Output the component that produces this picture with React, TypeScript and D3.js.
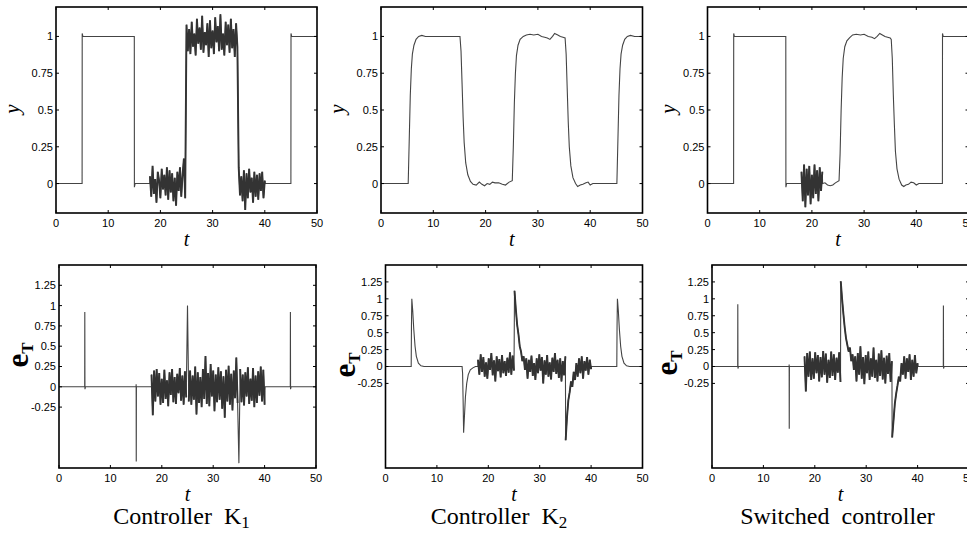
import React from 'react'
import * as d3 from 'd3'

type Pt = [number, number]
type Block = { t0: number; t1: number; v: number[] }
type Seg = Pt[] | Block

// tick values
const xTicks = [0, 10, 20, 30, 40, 50]
const yTicksTop = [0, 0.25, 0.5, 0.75, 1]
const yTicksBottom = [-0.25, 0, 0.25, 0.5, 0.75, 1, 1.25]

// ---- Controller K1, output y ----
const k1YHead: Pt[] = [[0, 0], [5, 0], [5.02, 1.02], [5.15, 1.0], [15, 1], [15.02, -0.025], [15.15, 0], [18, 0]]
const k1YNoise = [
  0.05, -0.09, 0.12, -0.07, 0.03, -0.13, 0.08, 0.02, -0.10, 0.10, -0.04, 0.06, -0.08, 0.11, -0.11, 0.09,
  -0.06, 0.07, -0.12, 0.04, -0.15, 0.08, -0.05, 0.11, -0.09, 0.06, 0.17, -0.10,
  1.08, 0.90, 1.05, 0.88, 1.10, 0.93, 1.02, 0.87, 1.12, 0.95, 1.06, 0.91, 1.14, 0.89, 1.03, 0.94, 1.09, 0.86,
  1.11, 0.92, 1.04, 0.88, 1.13, 0.96, 1.07, 0.90, 1.15, 0.91, 1.02, 0.87, 1.10, 0.94, 1.08, 0.89, 1.12, 0.92,
  1.05, 0.86, 1.09, 0.93,
  0.11, -0.08, 0.05, -0.12, 0.09, -0.18, 0.07, -0.10, 0.10, -0.06, 0.04, -0.13, 0.08, -0.09, 0.06, -0.11,
  0.07, -0.05, 0.08, -0.10, 0.02
]
const k1YTail: Pt[] = [[40.1, 0], [45, 0], [45.02, 1.02], [45.15, 1], [50, 1]]

// ---- Controller K1, error e_T ----
const k1EHead: Pt[] = [[0, 0], [5, 0], [5.02, 0.92], [5.05, -0.03], [5.15, 0], [15, 0], [15.01, 0.03], [15.03, -0.92], [15.06, 0], [18, 0]]
const k1ENoiseA = [
  0.15, -0.35, 0.20, -0.18, 0.22, -0.12, 0.17, -0.22, 0.10, -0.20, 0.21, -0.15, 0.08, -0.24, 0.18, -0.10,
  0.22, -0.19, 0.12, -0.21, 0.16, -0.08, 0.23, -0.17, 0.14, -0.22, 0.19, -0.13
]
const k1ESpikeUp: Pt[] = [[25, 1.0]]
const k1ENoiseB = [
  -0.18, 0.20, -0.22, 0.14, -0.16, 0.25, -0.34, 0.18, -0.20, 0.12, -0.25, 0.22, -0.15, 0.38, -0.21, 0.17,
  -0.24, 0.28, -0.12, 0.20, -0.30, 0.15, -0.19, 0.24, -0.16, 0.19, -0.27, 0.13, -0.38, 0.21, -0.18, 0.26,
  -0.22, 0.16, -0.29, 0.20, -0.14, 0.36, -0.20
]
const k1ESpikeDown: Pt[] = [[35, -0.94]]
const k1ENoiseC = [
  0.22, -0.19, 0.15, -0.23, 0.18, -0.12, 0.24, -0.21, 0.10, -0.17, 0.23, -0.25, 0.14, -0.20, 0.19, -0.11,
  0.25, -0.18, 0.21, -0.22
]
const k1ETail: Pt[] = [[40.1, 0], [45, 0], [45.02, 0.92], [45.05, -0.03], [45.15, 0], [50, 0]]

// ---- Controller K2, output y ----
const k2Y: Pt[] = [
  [0, 0], [5.2, 0], [5.4, 0.3], [5.6, 0.6], [5.8, 0.78], [6, 0.88], [6.3, 0.94], [6.7, 0.98], [7.2, 1.0],
  [7.8, 1.007], [8.5, 1.0], [15.1, 1.0], [15.3, 0.9], [15.5, 0.68], [15.7, 0.45], [15.9, 0.28], [16.2, 0.14],
  [16.6, 0.06], [17.1, 0.015], [17.6, -0.005], [18.2, -0.01], [18.8, 0.01], [19.3, -0.005], [19.8, -0.015],
  [20.3, 0], [20.8, -0.005], [21.3, 0.01], [21.8, 0.005], [22.5, 0.005], [23.2, -0.005], [23.8, -0.01],
  [24.5, 0.01], [25.1, 0.02], [25.3, 0.25], [25.5, 0.55], [25.7, 0.75], [25.9, 0.87], [26.2, 0.94],
  [26.6, 0.98], [27.2, 1.0], [27.8, 1.01], [28.5, 1.015], [29.2, 1.01], [30, 1.015], [30.7, 1.0],
  [31.3, 0.995], [31.8, 0.99], [32.3, 0.98], [32.8, 1.0], [33.2, 1.02], [33.8, 1.01], [34.3, 1.0],
  [34.8, 0.995], [35.2, 0.99], [35.4, 0.88], [35.6, 0.65], [35.8, 0.42], [36, 0.25], [36.3, 0.12],
  [36.7, 0.04], [37.2, 0.0], [37.6, -0.02], [38.1, -0.01], [38.6, -0.005], [39.2, 0.005], [39.6, 0.01],
  [40, -0.01], [40.5, 0], [45.1, 0], [45.3, 0.3], [45.5, 0.6], [45.7, 0.78], [45.9, 0.88], [46.2, 0.94],
  [46.6, 0.98], [47.1, 1.0], [47.7, 1.007], [48.5, 1.0], [50, 1.0]
]

// ---- Controller K2, error e_T ----
const k2EHead: Pt[] = [
  [0, 0], [5, 0], [5.05, 0.6], [5.12, 1.0], [5.3, 0.82], [5.5, 0.55], [5.75, 0.3], [6.0, 0.15], [6.4, 0.05],
  [6.9, 0.01], [7.5, 0], [14.9, 0], [15.0, -0.1], [15.1, -0.5], [15.2, -0.98], [15.35, -0.75], [15.55, -0.45],
  [15.8, -0.25], [16.1, -0.12], [16.5, -0.05], [17, -0.02], [17.5, 0], [18, 0]
]
const k2ENoiseA = [
  0.10, -0.12, 0.18, -0.08, 0.14, -0.15, 0.06, -0.18, 0.12, -0.05, 0.20, -0.13, 0.09, -0.22, 0.15, -0.07,
  0.11, -0.16, 0.17, -0.10, 0.08, -0.14, 0.13, -0.09, 0.21, -0.12, 0.16, -0.06
]
const k2ENoiseB = [
  1.12, 0.85, 0.62, 0.48, 0.30, 0.22, 0.08, 0.15, -0.05, 0.12, -0.18, 0.10, -0.08, 0.16, -0.14, 0.05,
  -0.20, 0.12, -0.10, 0.18, -0.06, 0.14, -0.25, 0.09, -0.12, 0.17, -0.15, 0.06, -0.19, 0.13, -0.08, 0.20,
  -0.11, 0.10, -0.17, 0.12, -0.22, 0.08, -0.13, 0.15
]
const k2ENoiseC = [
  -1.09, -0.75, -0.50, -0.38, -0.22, -0.30, -0.08, -0.20, 0.05, -0.15, 0.12, -0.10, 0.15, -0.18, 0.08, -0.06,
  0.14, -0.12, 0.10, -0.04
]
const k2ETail: Pt[] = [
  [40.1, 0], [45, 0], [45.05, 0.6], [45.12, 1.0], [45.3, 0.82], [45.5, 0.55], [45.75, 0.3], [46, 0.15],
  [46.4, 0.05], [46.9, 0.01], [47.5, 0], [50, 0]
]

// ---- Switched controller, output y ----
const swYHead: Pt[] = [[0, 0], [5, 0], [5.02, 1.02], [5.15, 1], [15, 1], [15.02, -0.025], [15.15, 0], [18, 0]]
const swYNoise = [0.08, -0.12, 0.13, -0.16, 0.10, -0.08, 0.12, -0.14, 0.06, -0.10, 0.13, -0.07, 0.09, -0.12, 0.11, -0.05, 0.08]
const swYTail: Pt[] = [
  [22.05, 0], [22.5, 0.005], [23, -0.01], [23.5, -0.015], [24, -0.01], [24.5, 0.005], [25.2, 0.02], [25.4, 0.2],
  [25.6, 0.5], [25.8, 0.72], [26, 0.85], [26.3, 0.93], [26.7, 0.97], [27.2, 0.99], [27.8, 1.01], [28.5, 1.015],
  [29.3, 1.01], [30, 1.015], [30.8, 1.0], [31.5, 0.995], [32, 0.985], [32.5, 1.0], [33, 1.02], [33.5, 1.01],
  [34, 1.0], [34.5, 0.995], [35, 0.99], [35.2, 0.98], [35.4, 0.85], [35.6, 0.6], [35.8, 0.4], [36, 0.22],
  [36.3, 0.1], [36.7, 0.03], [37.2, -0.01], [37.6, -0.02], [38, -0.01], [38.5, -0.005], [39, 0.01],
  [39.5, 0.005], [40, -0.01], [40.5, 0], [45, 0], [45.02, 1.02], [45.15, 1], [50, 1]
]

// ---- Switched controller, error e_T ----
const swEHead: Pt[] = [[0, 0], [5, 0], [5.02, 0.92], [5.05, -0.03], [5.15, 0], [15, 0], [15.01, 0.03], [15.03, -0.92], [15.06, 0], [18, 0]]
const swENoiseA = [
  0.15, -0.37, 0.20, -0.15, 0.22, -0.20, 0.12, -0.18, 0.21, -0.10, 0.17, -0.22, 0.14, -0.16, 0.23, -0.12,
  0.19, -0.24, 0.10, -0.17, 0.22, -0.14, 0.18, -0.20, 0.13, -0.09, 0.21, -0.23
]
const swENoiseB = [
  1.26, 1.0, 0.78, 0.58, 0.42, 0.32, 0.22, 0.28, 0.08, 0.18, -0.05, 0.15, -0.22, 0.20, -0.12, 0.30,
  -0.18, 0.14, -0.26, 0.17, -0.10, 0.22, -0.20, 0.12, -0.15, 0.28, -0.17, 0.10, -0.22, 0.19, -0.14, 0.24,
  -0.19, 0.13, -0.25, 0.16, -0.11, 0.20, -0.23, 0.08
]
const swENoiseC = [
  -1.05, -0.80, -0.55, -0.40, -0.28, -0.15, -0.22, 0.05, -0.12, 0.15, -0.18, 0.12, -0.08, 0.18, -0.20, 0.10,
  -0.15, 0.17, -0.10, 0.05
]
const swETail: Pt[] = [[40.1, 0], [45, 0], [45.02, 0.9], [45.05, -0.03], [45.15, 0], [50, 0]]

const k1YSegs: Seg[] = [k1YHead, { t0: 18, t1: 40, v: k1YNoise }, k1YTail]
const k1ESegs: Seg[] = [
  k1EHead, { t0: 18, t1: 24.75, v: k1ENoiseA }, k1ESpikeUp, { t0: 25.25, t1: 34.75, v: k1ENoiseB },
  k1ESpikeDown, { t0: 35.25, t1: 40, v: k1ENoiseC }, k1ETail
]
const k2YSegs: Seg[] = [k2Y]
const k2ESegs: Seg[] = [k2EHead, { t0: 18, t1: 25, v: k2ENoiseA }, { t0: 25.1, t1: 35, v: k2ENoiseB }, { t0: 35.05, t1: 40, v: k2ENoiseC }, k2ETail]
const swYSegs: Seg[] = [swYHead, { t0: 18, t1: 22, v: swYNoise }, swYTail]
const swESegs: Seg[] = [swEHead, { t0: 18, t1: 25, v: swENoiseA }, { t0: 25.05, t1: 35, v: swENoiseB }, { t0: 35.05, t1: 40, v: swENoiseC }, swETail]

// sampled blocks are spread evenly between t0 and t1
function blockPts(s: Block): Pt[] {
  const n = s.v.length
  return s.v.map((v, i) => [s.t0 + (i * (s.t1 - s.t0)) / (n - 1), v] as Pt)
}
function expand(segs: Seg[]): Pt[] {
  const out: Pt[] = []
  segs.forEach(s => {
    if (Array.isArray(s)) s.forEach(p => out.push(p))
    else blockPts(s).forEach(p => out.push(p))
  })
  return out
}

const SANS = "Arial, 'Liberation Sans', Helvetica, sans-serif"
const SERIF = "'Times New Roman', 'Liberation Serif', Times, serif"

type PanelProps = {
  id: string
  x0: number; x1: number; y0: number; y1: number
  yDomain: [number, number]
  yTicks: number[]
  segs: Seg[]
}

function Panel({ id, x0, x1, y0, y1, yDomain, yTicks, segs }: PanelProps) {
  const x = d3.scaleLinear().domain([0, 50]).range([x0, x1])
  const y = d3.scaleLinear().domain(yDomain).range([y1, y0])
  const line = d3.line<Pt>().x(d => x(d[0])).y(d => y(d[1]))
  const tk = 3
  const blocks = segs.filter(s => !Array.isArray(s)) as Block[]
  return (
    <g>
      <clipPath id={id}>
        <rect x={x0} y={y0} width={x1 - x0} height={y1 - y0} />
      </clipPath>
      <g clipPath={`url(#${id})`}>
        <path d={line(expand(segs)) || ''} fill="none" stroke="#444" strokeWidth={1.1} />
        {/* noisy stretches are drawn heavier so they read as a dense band */}
        {blocks.map((b, i) => (
          <path key={i} d={line(blockPts(b)) || ''} fill="none" stroke="#333" strokeWidth={1.9} strokeLinejoin="bevel" />
        ))}
      </g>
      {xTicks.map(t => (
        <g key={'x' + t}>
          <line x1={x(t)} x2={x(t)} y1={y1} y2={y1 - tk} stroke="#000" />
          <line x1={x(t)} x2={x(t)} y1={y0} y2={y0 + tk} stroke="#000" />
          <text x={x(t)} y={y1 + 13.5} textAnchor="middle" fontFamily={SANS} fontSize={11}>{t}</text>
        </g>
      ))}
      {yTicks.map(t => (
        <g key={'y' + t}>
          <line x1={x0} x2={x0 + tk} y1={y(t)} y2={y(t)} stroke="#000" />
          <line x1={x1} x2={x1 - tk} y1={y(t)} y2={y(t)} stroke="#000" />
          <text x={x0 - 3} y={y(t)} dy="0.36em" textAnchor="end" fontFamily={SANS} fontSize={11}>{String(t)}</text>
        </g>
      ))}
      <rect x={x0} y={y0} width={x1 - x0} height={y1 - y0} fill="none" stroke="#000" strokeWidth={1.6} />
      <text x={(x0 + x1) / 2} y={y1 + 33} textAnchor="middle" fontFamily={SERIF} fontStyle="italic" fontSize={20}>t</text>
    </g>
  )
}

const topCols = [[56, 317], [381, 642.5], [707.5, 968.5]]
const botCols = [[59, 316], [385.5, 642.5], [712, 969]]
const yLabelX = [19, 344, 675]
const eLabel = [[28, 355], [355, 365], [677, 363]]
const captions = [
  { x: 181.5, main: 'Controller  K', sub: '1' },
  { x: 499, main: 'Controller  K', sub: '2' },
  { x: 837.5, main: 'Switched  controller', sub: '' }
]

export default function App() {
  const topSegs = [k1YSegs, k2YSegs, swYSegs]
  const botSegs = [k1ESegs, k2ESegs, swESegs]
  const botDomains: [number, number][] = [[-1, 1.5], [-1.5, 1.5], [-1.5, 1.5]]
  return (
    <svg width={967} height={542} style={{ position: 'absolute', left: 0, top: 0, background: '#fff' }}>
      <rect width={967} height={542} fill="#fff" />
      {topCols.map((c, i) => (
        <Panel key={'t' + i} id={'ct' + i} x0={c[0]} x1={c[1]} y0={7} y1={213} yDomain={[-0.2, 1.2]} yTicks={yTicksTop} segs={topSegs[i]} />
      ))}
      {botCols.map((c, i) => (
        <Panel key={'b' + i} id={'cb' + i} x0={c[0]} x1={c[1]} y0={265} y1={468} yDomain={botDomains[i]} yTicks={yTicksBottom} segs={botSegs[i]} />
      ))}
      {yLabelX.map((lx, i) => (
        <text key={'yl' + i} transform={`translate(${lx},109) rotate(-90)`} textAnchor="middle" fontFamily={SERIF} fontStyle="italic" fontSize={21}>y</text>
      ))}
      {eLabel.map((p, i) => (
        <text key={'el' + i} transform={`translate(${p[0]},${p[1]}) rotate(-90)`} textAnchor="middle" fontFamily={SERIF} fontWeight="bold">
          <tspan fontSize={31}>e</tspan>
          <tspan fontSize={17} dy={5}>T</tspan>
        </text>
      ))}
      {captions.map((c, i) => (
        <text key={'cap' + i} x={c.x} y={524} textAnchor="middle" fontFamily={SERIF} fontSize={24} style={{ whiteSpace: 'pre' }}>
          {c.main}
          {c.sub && <tspan fontSize={17} dy={4}>{c.sub}</tspan>}
        </text>
      ))}
    </svg>
  )
}
